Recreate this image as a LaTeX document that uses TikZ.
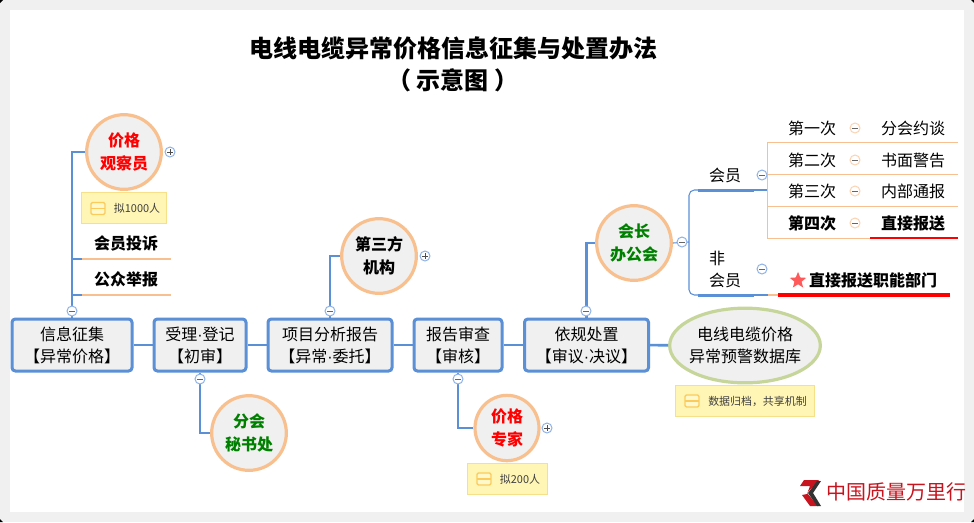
\documentclass[tikz,border=0pt]{standalone}
\usepackage{fontspec}
\setmainfont{Noto Sans CJK SC}
\newfontfamily\dotfont{Liberation Sans}
\usetikzlibrary{shapes.geometric}
\definecolor{pagecol}{HTML}{F0F0F0}
\definecolor{stepcol}{HTML}{5B8FD6}
\definecolor{foldcol}{HTML}{8FB3E6}
\definecolor{ringcol}{HTML}{F9C08F}
\definecolor{dbcol}{HTML}{C6D69A}
\definecolor{notecol}{HTML}{FFF5B5}
\definecolor{noteline}{HTML}{F7E08A}
\definecolor{iconcol}{HTML}{FBCB5C}
\definecolor{greencol}{HTML}{008000}
\definecolor{logocol}{HTML}{C8141E}
\newcommand{\middot}{{\dotfont ·}}
\tikzset{
	stepbox/.style={draw=stepcol,line width=2.25pt,fill=pagecol,rounded corners=2.5pt,align=center,
		minimum height=39pt,font=\fontsize{12}{16.5}\selectfont},
	ringnode/.style={draw=ringcol,line width=2.4pt,fill=pagecol,align=center,inner sep=0pt,
		font=\bfseries\fontsize{12}{17}\selectfont},
	roundnode/.style={ringnode,circle,minimum size=56pt},
	notebox/.style={draw=noteline,line width=.75pt,fill=notecol,minimum height=23pt,inner sep=0pt,
		text=black!75,font=\fontsize{8.2}{10}\selectfont},
	plain/.style={inner sep=0pt,font=\fontsize{12}{16.5}\selectfont},
	strong/.style={inner sep=0pt,font=\bfseries\fontsize{12}{16.5}\selectfont},
	mainlink/.style={draw=stepcol,line width=1.9pt},
	thinlink/.style={draw=stepcol,line width=.8pt},
	foldnode/.style={circle,draw=#1,line width=.75pt,fill=white,minimum size=7.5pt,inner sep=0pt},
	foldminus/.style={foldnode=#1,path picture={\draw[black!60,line width=.5pt]
		([xshift=-2pt]path picture bounding box.center) -- ([xshift=2pt]path picture bounding box.center);}},
	foldminus/.default=foldcol,
	foldplus/.style={foldminus=foldcol,path picture={\draw[black!70,line width=.5pt]
		([xshift=-2pt]path picture bounding box.center) -- ([xshift=2pt]path picture bounding box.center)
		([yshift=-2pt]path picture bounding box.center) -- ([yshift=2pt]path picture bounding box.center);}},
}
\newcommand{\noteicon}[2]{
	\fill[notecol!70!white] (#1-7.5,#2-6.5) rectangle (#1+7.5,#2+6.5);
	\draw[iconcol,line width=1pt,rounded corners=1pt] (#1-7,#2-6) rectangle (#1+7,#2+6);
	\draw[iconcol,line width=1pt] (#1-7,#2) -- (#1+7,#2);
}
\begin{document}
\begin{tikzpicture}[x=.75pt,y=-.75pt]
\useasboundingbox (0,0) rectangle (974,522);
\fill[pagecol] (0,0) rectangle (974,522);
\fill[white] (10,10) rectangle (964,512);
\foreach \cx/\cy/\dx/\dy in {0/0/1/1,974/0/-1/1,0/522/1/-1,974/522/-1/-1}
	\fill[black] (\cx,\cy) -- (\cx+3*\dx,\cy) -- (\cx,\cy+3*\dy) -- cycle;

\node[font=\bfseries\fontsize{18}{24}\selectfont,align=center,inner sep=0pt] (title) at (453,64) {电线电缆异常价格信息征集与处置办法\\（ 示意图 ）};

\node[stepbox,minimum width=90pt] (info) at (72,345) {信息征集\\【异常价格】};
\node[stepbox,minimum width=69pt] (accept) at (200,345) {受理\middot{}登记\\【初审】};
\node[stepbox,minimum width=93pt] (report) at (330,345) {项目分析报告\\【异常\middot{}委托】};
\node[stepbox,minimum width=66pt] (audit) at (458,345) {报告审查\\【审核】};
\node[stepbox,minimum width=93pt] (handle) at (586.5,345) {依规处置\\【审议\middot{}决议】};
\node[ringnode,draw=dbcol,ellipse,minimum width=113pt,minimum height=56pt,inner xsep=-2.5pt,font=\fontsize{12}{16.5}\selectfont] (database) at (745,345.5) {电线电缆价格\\异常预警数据库};

\node[roundnode,text=red] (observer) at (124,152) {价格\\观察员};
\node[roundnode] (third) at (379,256) {第三方\\机构};
\node[roundnode,text=greencol] (branch) at (249,433) {分会\\秘书处};
\node[ringnode,ellipse,minimum width=48pt,minimum height=49pt,text=red] (expert) at (507,428) {价格\\专家};
\node[roundnode,text=greencol] (office) at (634,243) {会长\\办公会};

\foreach \a/\b in {info/accept,accept/report,report/audit,audit/handle,handle/database}
	\draw[mainlink] (\a) -- (\b);
\draw[mainlink] (observer.west) -| (info.north);
\draw[mainlink] (third.west) -| (report.north);
\draw[mainlink] (branch.west) -| (accept.south);
\draw[mainlink] (expert.west) -| (audit.south);
\draw[mainlink] (office.west) -| (handle.north);

\node[notebox,minimum width=64pt] (note1) at (124,208) {};
\node[notebox,minimum width=60pt] (note2) at (507.5,479) {};
\node[notebox,minimum width=104pt] (note3) at (745,401) {};
\noteicon{98}{208.5}
\noteicon{484}{479}
\noteicon{692}{401}
\node[notebox,draw=none,fill=none,minimum height=0pt] (note1text) at (137,208.5) {拟1000人};
\node[notebox,draw=none,fill=none,minimum height=0pt] (note2text) at (520,479.5) {拟200人};
\node[notebox,draw=none,fill=none,minimum height=0pt] (note3text) at (757.5,401.5) {数据归档，共享机制};

\node[strong] (complaint) at (126,243) {会员投诉};
\node[strong] (report1) at (126,279) {公众举报};
\coordinate (complaintl) at (82,259);
\coordinate (complaintr) at (171,259);
\coordinate (report1l) at (82,295);
\coordinate (report1r) at (171,295);
\draw[ringcol,line width=2pt] (complaintl) -- (complaintr);
\draw[ringcol,line width=2pt] (report1l) -- (report1r);
\draw[mainlink] (complaintl) -- (72,259);
\draw[mainlink] (report1l) -- (72,295);

\node[plain] (member) at (725,175) {会员};
\node[plain,align=left] (nonmember) at (725,269) {非\\会员};
\coordinate (busl) at (689,242);
\coordinate (memberl) at (698,190);
\coordinate (memberr) at (754,190);
\coordinate (nonl) at (698,295);
\coordinate (nonr) at (754,295);
\coordinate (tree) at (767,190);
\coordinate (nonend) at (778,295);
\coordinate (nonfar) at (950,295);
\draw[thinlink,rounded corners=4pt] (memberr) -- (689,190) -- (689,295) -- (nonr);
\draw[thinlink] (office.east) -- (busl);
\draw[stepcol,line width=2.25pt] (memberl) -- (memberr);
\draw[stepcol,line width=2.25pt] (nonl) -- (nonr);
\draw[thinlink] (memberr) -- (tree);
\draw[thinlink] (nonr) -- (768,295);
\draw[ringcol,line width=.8pt] (768,295) -- (nonend);
\draw[red,line width=2.6pt] (nonend) -- (nonfar);

\draw[ringcol,line width=.75pt] (958,142) -- (767,142) -- (767,238) -- (870,238);
\draw[ringcol,line width=.75pt] (767,174) -- (958,174);
\draw[ringcol,line width=.75pt] (767,206) -- (958,206);
\draw[red,line width=.9pt] (870,238) -- (958,238);

\foreach \first/\second/\y/\stylename [count=\x] in {
	第一次/分会约谈/128/plain,
	第二次/书面警告/160/plain,
	第三次/内部通报/191/plain,
	第四次/直接报送/223/strong%
	}{
	\node[\stylename] (time\x) at (812,\y) {\first};
	\node[\stylename] (act\x) at (913,\y) {\second};
	\node[foldminus=ringcol!70] (fold\x) at (855,\y) {};
	}

\node[star,star points=5,star point ratio=2.3,fill=red!65!white,draw=none,minimum size=13pt,inner sep=0pt] (alert) at (798,280.5) {};
\node[strong] (direct) at (873,280) {直接报送职能部门};

\node[foldminus] (foldinfo) at (72,311) {};
\node[foldminus] (foldaccept) at (200,379) {};
\node[foldminus] (foldreport) at (330,311) {};
\node[foldminus] (foldaudit) at (458,379) {};
\node[foldminus] (foldhandle) at (586,311) {};
\node[foldminus] (foldoffice) at (682,242) {};
\node[foldminus] (foldmember) at (762,175) {};
\node[foldminus] (foldnon) at (762,269) {};
\node[foldplus] (plusobserver) at (170,152) {};
\node[foldplus] (plusthird) at (425,256) {};
\node[foldplus] (plusexpert) at (547,428) {};

\fill[logocol] (804,480) -- (819,480) -- (807,493) -- (818,506) -- (810,506) -- (802,495) -- (807,494) -- (810,486) -- (800,486) -- cycle;
\fill[black!80] (821,481) -- (813,493) -- (821,506) -- (817,506) -- (808,493) -- (817,481) -- cycle;
\node[inner sep=0pt,text=logocol,font=\fontsize{15}{15}\selectfont] (logo) at (896,492) {中国质量万里行};
\end{tikzpicture}
\end{document}
